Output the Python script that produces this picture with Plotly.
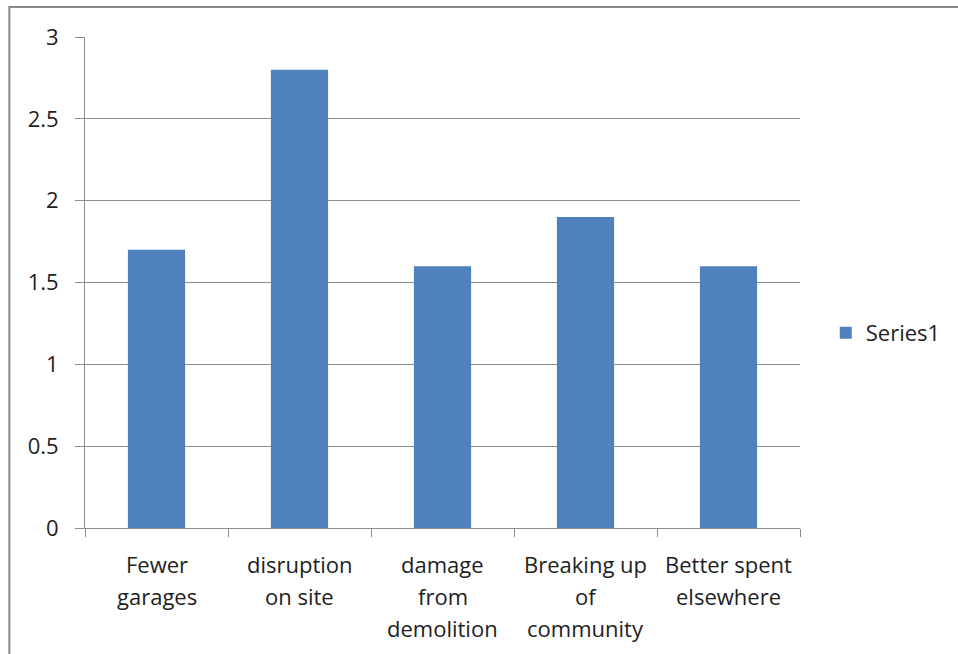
import plotly.graph_objects as go

# Survey results: average concern score per issue
categories = ["Fewer garages", "disruption on site", "damage from demolition",
              "Breaking up of community", "Better spent elsewhere"]
label_lines = [["Fewer", "garages"],
               ["disruption", "on site"],
               ["damage", "from", "demolition"],
               ["Breaking up", "of", "community"],
               ["Better spent", "elsewhere"]]
values = [1.7, 2.8, 1.6, 1.9, 1.6]
y_ticks = [0, 0.5, 1, 1.5, 2, 2.5, 3]
y_tick_text = ["0", "0.5", "1", "1.5", "2", "2.5", "3"]

FONT = "'Open Sans', Lato, sans-serif"
TEXT = "#1e1e1e"
GRID = "#8c8c8c"
FS = 22

fig = go.Figure()
fig.add_trace(go.Bar(
    x=categories, y=values, name="Series1",
    marker=dict(color="#4F81BD", line=dict(width=0)),
    showlegend=True,
))

# Multi-line category labels beneath the axis
annotations = []
for cat, lines in zip(categories, label_lines):
    for i, line in enumerate(lines):
        annotations.append(dict(
            x=cat, y=0, xref="x", yref="y", text=line, showarrow=False,
            xanchor="center", yanchor="middle", yshift=-36 - 32 * i,
            font=dict(family=FONT, size=FS, color=TEXT),
        ))

fig.update_layout(
    width=958, height=654,
    margin=dict(l=85, r=155, t=37, b=126),
    paper_bgcolor="white", plot_bgcolor="white",
    bargap=0.6,
    font=dict(family=FONT, size=FS, color=TEXT),
    annotations=annotations,
    legend=dict(x=1.036, y=0.397, xanchor="left", yanchor="middle",
                font=dict(family=FONT, size=FS, color=TEXT),
                itemwidth=30, bgcolor="rgba(0,0,0,0)"),
    shapes=[dict(type="rect", xref="paper", yref="paper",
                 x0=-0.1058, x1=1.5, y0=-0.5, y1=1.0611,
                 line=dict(color="#888888", width=2), layer="below")],
)
fig.update_xaxes(
    type="category", showticklabels=False, showgrid=False,
    showline=True, linecolor=GRID, linewidth=1,
    ticks="outside", tickson="boundaries", ticklen=8, tickcolor=GRID,
)
fig.update_yaxes(
    range=[0, 3], tickvals=y_ticks, ticktext=y_tick_text,
    showgrid=True, gridcolor=GRID, gridwidth=1,
    showline=True, linecolor=GRID, linewidth=1,
    ticks="outside", ticklen=9, tickcolor=GRID,
    ticklabelstandoff=12, zeroline=False,
    tickfont=dict(family=FONT, size=FS, color=TEXT),
)

fig.write_html("out.html")
